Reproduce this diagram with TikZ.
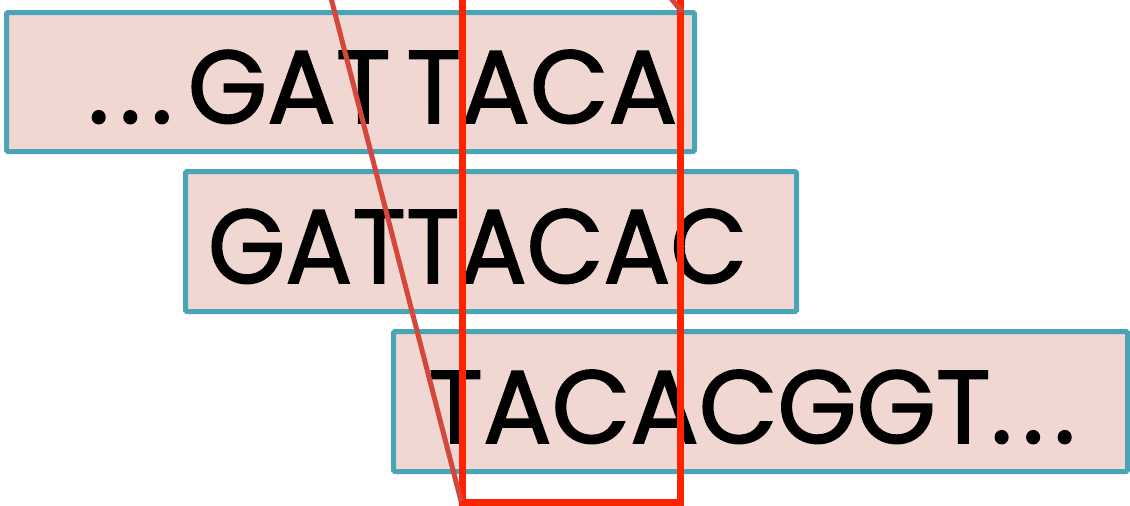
\documentclass[tikz,border=0pt]{standalone}
\usepackage{fontspec}
\usepackage{graphicx}
\setmainfont{Poppins}
\newfontfamily\seqfont{Poppins}[FakeBold=1.6]
\definecolor{boxfill}{HTML}{F0D7D1}
\definecolor{boxline}{HTML}{4AA4B7}
\definecolor{hilite}{HTML}{FF2200}
\definecolor{slash}{HTML}{D5473D}
\begin{document}
\begin{tikzpicture}[x=1pt,y=-1pt,
  seqbox/.style={draw=boxline,line width=5pt,fill=boxfill,rounded corners=1.5pt},
  seqtxt/.style={anchor=base west,inner sep=0pt,outer sep=0pt,text=black,font=\seqfont}]
\useasboundingbox (0,0) rectangle (1130,506);
\draw[seqbox] (6.5,12.5) rectangle (694.5,151.5);
\draw[seqbox] (185.5,171.5) rectangle (796.5,311.5);
\draw[seqbox] (393.5,331.5) rectangle (1127.5,471.5);
\node[seqtxt] (t1) at (88,123) {\resizebox{589pt}{73pt}{.\kern0.1em.\kern0.1em.\kern0.15em GAT\hspace{0.15em}TACA}};
\node[seqtxt] (t2) at (208,283) {\resizebox{539pt}{74pt}{GATTACAC}};
\node[seqtxt] (t3) at (428,443) {\resizebox{647pt}{73pt}{TACACGGT.\kern0.1em.\kern0.1em.}};
\draw[hilite,line width=7pt] (462.5,-10) rectangle (680.5,502.5);
\coordinate (s1a) at (331,-2);
\coordinate (s1b) at (461,501);
\coordinate (s2a) at (670,-3);
\coordinate (s2b) at (682,12);
\draw[slash,line width=5pt] (s1a) -- (s1b);
\draw[slash,line width=5pt] (s2a) -- (s2b);
\end{tikzpicture}
\end{document}
